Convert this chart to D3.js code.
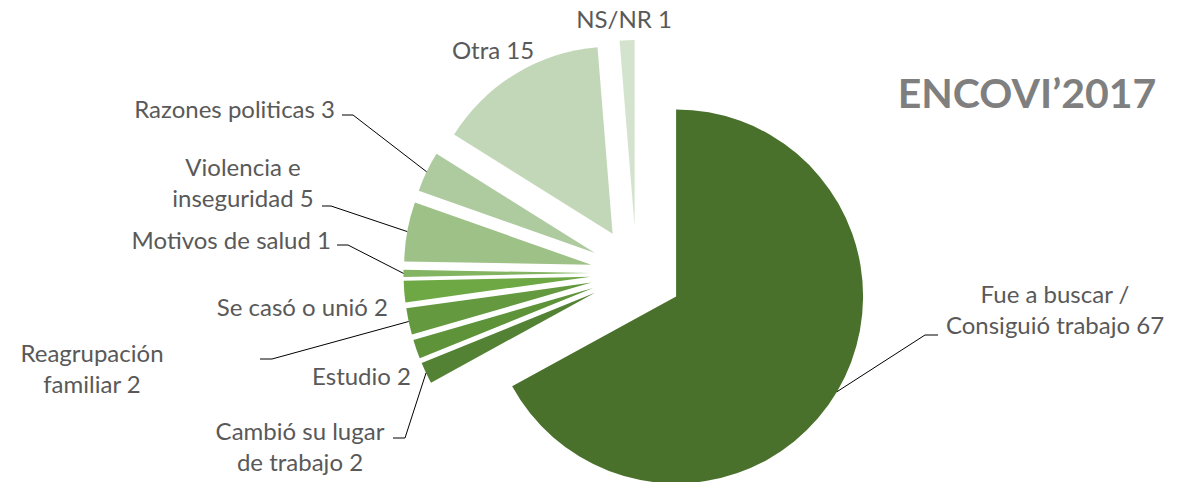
<!DOCTYPE html>
<html>
<head>
<meta charset="utf-8">
<script src="https://cdn.jsdelivr.net/npm/d3@7"></script>
<style>
  body { margin: 0; background: #fff; }
  text { font-family: Lato, "Open Sans", sans-serif; }
</style>
</head>
<body>
<div id="chart"></div>
<script>
// categories in clockwise order, starting at 12 o'clock
var categories = ["Fue a buscar / Consiguió trabajo", "Cambió su lugar de trabajo", "Estudio",
    "Reagrupación familiar", "Se casó o unió", "Motivos de salud", "Violencia e inseguridad",
    "Razones politicas", "Otra", "NS/NR"];
// percentages (labels show them rounded)
var values = [66.7, 1.85, 1.64, 2.27, 1.85, 0.62, 5.1, 3.47, 14.75, 1.28];
var colors = ["#4a712c", "#548235", "#5e933a", "#64993f", "#6ea845", "#82b461",
    "#9dc186", "#aecba0", "#c2d7b8", "#d4e3cd"];

// label layout (how the words wrap and where they sit)
var labelLayout = [
    {lines: ["Fue a buscar /", "Consiguió trabajo"], x: 1055, y: 303, anchor: "middle", leader: [[938, 335], [925, 335]]},
    {lines: ["Cambió su lugar", "de trabajo"], x: 300, y: 440, anchor: "middle", leader: [[393, 438], [405, 438]]},
    {lines: ["Estudio"], x: 411, y: 385, anchor: "end", leader: null},
    {lines: ["Reagrupación", "familiar"], x: 92, y: 362, anchor: "middle", leader: [[260, 359], [272, 359]]},
    {lines: ["Se casó o unió"], x: 388, y: 316, anchor: "end", leader: null},
    {lines: ["Motivos de salud"], x: 331, y: 249, anchor: "end", leader: [[337, 245], [348, 245]]},
    {lines: ["Violencia e", "inseguridad"], x: 243, y: 176, anchor: "middle", leader: [[322, 206], [331, 206]]},
    {lines: ["Razones politicas"], x: 335, y: 118, anchor: "end", leader: [[342, 115], [353, 115]]},
    {lines: ["Otra"], x: 493, y: 59, anchor: "middle", leader: null},
    {lines: ["NS/NR"], x: 624, y: 28, anchor: "middle", leader: null}
];

var width = 1181, height = 482;
var cx = 636.5, cy = 273, radius = 187, explode = 46;
var lineHeight = 31;

var svg = d3.select("#chart").append("svg")
    .attr("width", width)
    .attr("height", height);

var pie = d3.pie().sort(null).value(function(d) { return d; });
var arcs = pie(values);
var arc = d3.arc().innerRadius(0).outerRadius(radius);

// every slice is pulled out along its own bisector
function offset(d, dist) {
    var m = (d.startAngle + d.endAngle) / 2;
    return [dist * Math.sin(m), -dist * Math.cos(m)];
}

var g = svg.append("g")
    .attr("transform", "translate(" + cx + "," + cy + ")");

g.selectAll("path")
    .data(arcs)
    .enter()
    .append("path")
    .attr("d", arc)
    .attr("transform", function(d) { return "translate(" + offset(d, explode) + ")"; })
    .style("fill", function(d, i) { return colors[i]; });

// leader lines: label stub -> middle of the slice's outer edge
arcs.forEach(function(d, i) {
    var lay = labelLayout[i];
    if (!lay.leader) return;
    var s = offset(d, explode), e = offset(d, radius);
    var edge = [cx + s[0] + e[0], cy + s[1] + e[1]];
    var pts = lay.leader.concat([edge]);
    svg.append("polyline")
        .attr("points", pts.map(function(p) { return p.join(","); }).join(" "))
        .style("fill", "none")
        .style("stroke", "#000")
        .style("stroke-width", 1);
});

// data labels
arcs.forEach(function(d, i) {
    var lay = labelLayout[i];
    var t = svg.append("text")
        .attr("x", lay.x)
        .attr("y", lay.y)
        .attr("text-anchor", lay.anchor)
        .style("font-size", "24px")
        .style("fill", "#595959");
    lay.lines.forEach(function(line, j) {
        var last = j === lay.lines.length - 1;
        t.append("tspan")
            .attr("x", lay.x)
            .attr("dy", j === 0 ? 0 : lineHeight)
            .text(last ? line + " " + Math.round(d.data) : line);
    });
});

// title
svg.append("text")
    .attr("x", 1027)
    .attr("y", 108)
    .attr("text-anchor", "middle")
    .style("font-size", "41px")
    .style("font-weight", "bold")
    .style("fill", "#7f7f7f")
    .text("ENCOVI\u20192017");
</script>
</body>
</html>
